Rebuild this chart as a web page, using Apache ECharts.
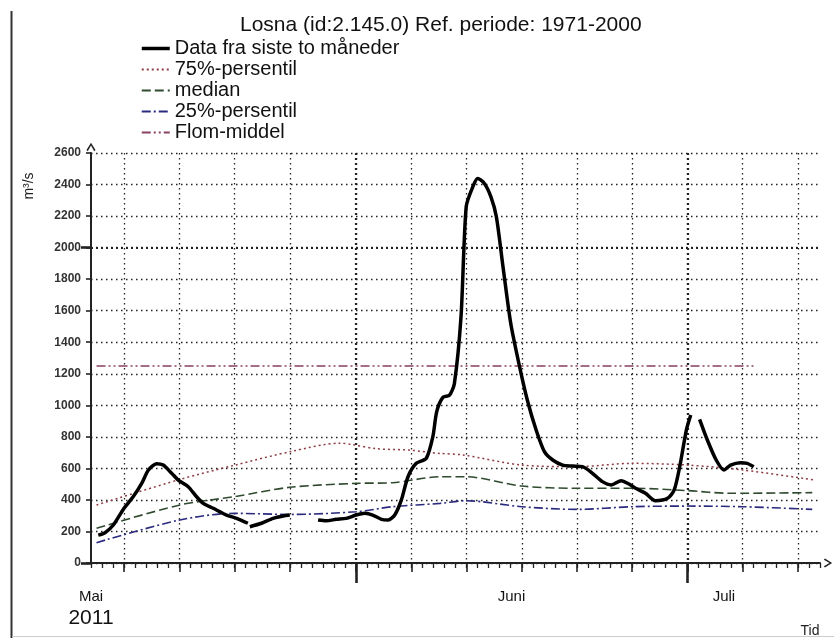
<!DOCTYPE html>
<html>
<head>
<meta charset="utf-8">
<script src="https://cdn.jsdelivr.net/npm/echarts@6/dist/echarts.min.js"></script>
<style>
	html, body { margin: 0; padding: 0; background: #fff; }
	#chart { width: 834px; height: 638px; }
</style>
</head>
<body>
<div id="chart"></div>
<script>
// dager regnet fra 1. mai (1. mai = 0)
let dataDays = [7.66, 8.27, 9.02, 9.92, 10.83, 11.59, 12.2, 12.94, 13.54, 14.3, 14.9, 15.8, 16.56, 17.16, 18.06, 19.27, 20.18, 21.2,
	21.3,
	21.38, 22.44, 23.49, 24.4, 25.0,
	26,
	27.56, 28.3, 29.2, 30.1, 31.0, 31.8, 32.5, 33.3, 33.9, 34.5, 35.1, 35.7, 36.45, 37.36, 37.95, 38.3, 38.86, 39.46, 39.9,
	40.5, 40.97, 41.57, 42.0, 42.6, 43.2, 43.7, 44.3, 45.0, 45.8, 46.5, 47.3, 48.05, 48.8, 49.7, 50.6, 51.5, 52.4, 53.3,
	54.1, 55.0, 55.7, 56.3, 57.2, 58.1, 59.2, 59.8, 60.3, 60.9, 61.3,
	61.7,
	62.1, 62.8, 63.6, 64.3, 64.9, 65.8, 66.4, 67.0]
let dataFlow = [177, 192, 241, 340, 421, 505, 590, 630, 621, 569, 526, 484, 420, 378, 347, 304, 283, 252,
	'-',
	230, 252, 283, 298, 304,
	'-',
	273, 268, 277, 283, 304, 315, 304, 277, 273, 304, 400, 547, 632, 664, 801, 960, 1050, 1065, 1139,
	1562, 2260, 2386, 2439, 2408, 2323, 2196, 1879, 1520, 1245, 1034, 843, 706, 653, 621, 615, 611, 569, 516,
	495, 522, 501, 474, 442, 395, 410, 463, 611, 843, 938,
	'-',
	911, 780, 653, 590, 621, 636, 632, 611]

let p75Days = [7.5, 15.05, 20, 25.3, 29.5, 30.7, 32.8, 35.8, 38.6, 40.7, 46, 51, 56, 61, 66, 72.5]
let p75 = [368, 530, 620, 710, 760, 750, 725, 716, 695, 685, 621, 611, 632, 621, 590, 526]

let medDays = [7.5, 15.05, 20, 25, 31, 34.3, 38.6, 40.9, 46, 51, 56, 61, 64.8, 72.3]
let median = [220, 368, 421, 480, 505, 509, 547, 547, 488, 474, 474, 459, 442, 446]

let p25Days = [7.5, 15.05, 20, 25, 31, 34.3, 38.6, 40.9, 46, 51, 56, 61, 66, 72.3]
let p25 = [129, 273, 315, 308, 325, 357, 378, 395, 357, 340, 357, 361, 357, 340]

let flomDays = [7.5, 67]
let flom = [1250, 1250]

let gridDays = [10, 15, 20, 25, 31, 36, 41, 46, 51, 56, 61, 66, 71] // 11., 16., ... mai, 1., 6. ... juni, 1. juli
let monthDays = [31, 61]
let labelDays = [7, 45.07, 64.3]
let labelNames = ['Mai', 'Juni', 'Juli']

function pairs(xs, ys) {
	let out = []
	for (let i = 0; i < xs.length; i++) {
		out.push([xs[i], ys[i]])
	}
	return out
}

let font = "'Liberation Sans', Arial, sans-serif"
let ink = '#222'
let arrow = 'path://M5,0 L10,8 L8.6,9.2 L5,3 L1.4,9.2 L0,8 Z'
let gridBox = { left: 91, right: 14, top: 153, bottom: 75 }

let chart = echarts.init(document.getElementById('chart'))

let option = {
	animation: false,
	textStyle: { fontFamily: font },
	title: {
		text: 'Losna (id:2.145.0) Ref. periode: 1971-2000',
		left: 235,
		top: 10,
		textStyle: { fontSize: 21, fontWeight: 'normal', color: '#111', fontFamily: font }
	},
	legend: {
		orient: 'vertical',
		left: 140,
		top: 38,
		padding: 0,
		itemWidth: 28,
		itemHeight: 14,
		itemGap: 0,
		selectedMode: false,
		itemStyle: { opacity: 0 },
		textStyle: { fontSize: 20, lineHeight: 21, color: '#111', fontFamily: font },
		data: [{
				name: 'Data fra siste to måneder',
				lineStyle: { width: 3.5 }
			},
			'75%-persentil', 'median', '25%-persentil', 'Flom-middel'
		]
	},
	grid: [
		Object.assign({}, gridBox),
		Object.assign({}, gridBox),
		Object.assign({}, gridBox)
	],
	xAxis: [{
			type: 'value',
			gridIndex: 0,
			min: 7,
			max: 73,
			axisLine: {
				show: true,
				onZero: false,
				symbol: ['none', arrow],
				symbolSize: [9, 10],
				symbolOffset: [0, 8],
				lineStyle: { color: ink, width: 2 }
			},
			axisTick: {
				show: true,
				customValues: gridDays,
				length: 9,
				lineStyle: { color: ink, width: 1.6 }
			},
			axisLabel: {
				show: true,
				customValues: labelDays,
				margin: 25,
				color: '#111',
				fontSize: 15,
				lineHeight: 18,
				formatter: function(v) {
					let i = labelDays.indexOf(v)
					if (i == 0) {
						return labelNames[0] + '\n{yr|2011}'
					}
					return labelNames[i]
				},
				rich: {
					yr: { fontSize: 21, lineHeight: 24, color: '#111', fontFamily: font }
				}
			},
			splitLine: {
				show: true,
				lineStyle: { color: ink, width: 1.3, type: [1.5, 3.5] }
			}
		},
		{
			// små streker for hver dag
			type: 'value',
			gridIndex: 1,
			min: 7,
			max: 73,
			interval: 1,
			axisLine: { show: false },
			axisTick: { show: true, length: 5, lineStyle: { color: ink, width: 1.3 } },
			axisLabel: { show: false },
			splitLine: { show: false }
		},
		{
			// månedsskille
			type: 'value',
			gridIndex: 2,
			min: 7,
			max: 73,
			axisLine: { show: false },
			axisTick: { show: true, customValues: monthDays, length: 20, lineStyle: { color: ink, width: 2.6 } },
			axisLabel: { show: false },
			splitLine: { show: true, lineStyle: { color: ink, width: 2.2, type: [2, 3] } }
		}
	],
	yAxis: [{
			type: 'value',
			gridIndex: 0,
			min: 0,
			max: 2600,
			interval: 200,
			axisLine: {
				show: true,
				symbol: ['none', arrow],
				symbolSize: [9, 10],
				symbolOffset: [0, 6],
				lineStyle: { color: ink, width: 2 }
			},
			axisTick: { show: true, length: 5, lineStyle: { color: ink, width: 1.6 } },
			axisLabel: {
				margin: 10,
				fontSize: 12,
				fontWeight: 'bold',
				color: '#333',
				formatter: function(v) {
					return '' + v
				}
			},
			splitLine: {
				show: true,
				lineStyle: { color: ink, width: 1.3, type: [1.5, 3.5] }
			}
		},
		{
			// tykk 2000-linje
			type: 'value',
			gridIndex: 1,
			min: 0,
			max: 2600,
			axisLine: { show: false },
			axisTick: { show: true, customValues: [0, 2000], length: 10, lineStyle: { color: ink, width: 2.6 } },
			axisLabel: { show: false },
			splitLine: { show: true, lineStyle: { color: ink, width: 2.2, type: [2, 3] } }
		},
		{
			type: 'value',
			gridIndex: 2,
			min: 0,
			max: 2600,
			show: false
		}
	],
	series: [{
			name: 'Data fra siste to måneder',
			type: 'line',
			xAxisIndex: 0,
			yAxisIndex: 0,
			data: pairs(dataDays, dataFlow),
			symbol: 'none',
			smooth: 0.25,
			connectNulls: false,
			z: 5,
			lineStyle: { color: '#000', width: 3.5 },
			itemStyle: { color: '#000' }
		},
		{
			name: '75%-persentil',
			type: 'line',
			data: pairs(p75Days, p75),
			symbol: 'none',
			smooth: 0.3,
			lineStyle: { color: '#8e3b44', width: 1.5, type: [2, 3] },
			itemStyle: { color: '#8e3b44' }
		},
		{
			name: 'median',
			type: 'line',
			data: pairs(medDays, median),
			symbol: 'none',
			smooth: 0.3,
			lineStyle: { color: '#2f4a2f', width: 1.6, type: [9, 4] },
			itemStyle: { color: '#2f4a2f' }
		},
		{
			name: '25%-persentil',
			type: 'line',
			data: pairs(p25Days, p25),
			symbol: 'none',
			smooth: 0.3,
			lineStyle: { color: '#2a2a7e', width: 1.6, type: [9, 3, 2, 3] },
			itemStyle: { color: '#2a2a7e' }
		},
		{
			name: 'Flom-middel',
			type: 'line',
			data: pairs(flomDays, flom),
			symbol: 'none',
			lineStyle: { color: '#8a4060', width: 1.5, type: [9, 3, 2, 3, 2, 3] },
			itemStyle: { color: '#8a4060' }
		}
	],
	graphic: [{
			type: 'text',
			x: 29,
			y: 186,
			rotation: Math.PI / 2,
			style: { text: 'm³/s', fontSize: 14, fontFamily: font, fill: '#222', align: 'center', verticalAlign: 'middle' }
		},
		{
			type: 'text',
			x: 810,
			y: 631,
			style: { text: 'Tid', fontSize: 14, fontFamily: font, fill: '#222', align: 'center', verticalAlign: 'middle' }
		},
		{
			type: 'line',
			shape: { x1: 11.5, y1: 11, x2: 11.5, y2: 638 },
			style: { stroke: '#333', lineWidth: 2 }
		},
		{
			type: 'line',
			shape: { x1: 12, y1: 636.5, x2: 834, y2: 636.5 },
			style: { stroke: '#ccc', lineWidth: 1 }
		}
	]
}

chart.setOption(option)
</script>
</body>
</html>
